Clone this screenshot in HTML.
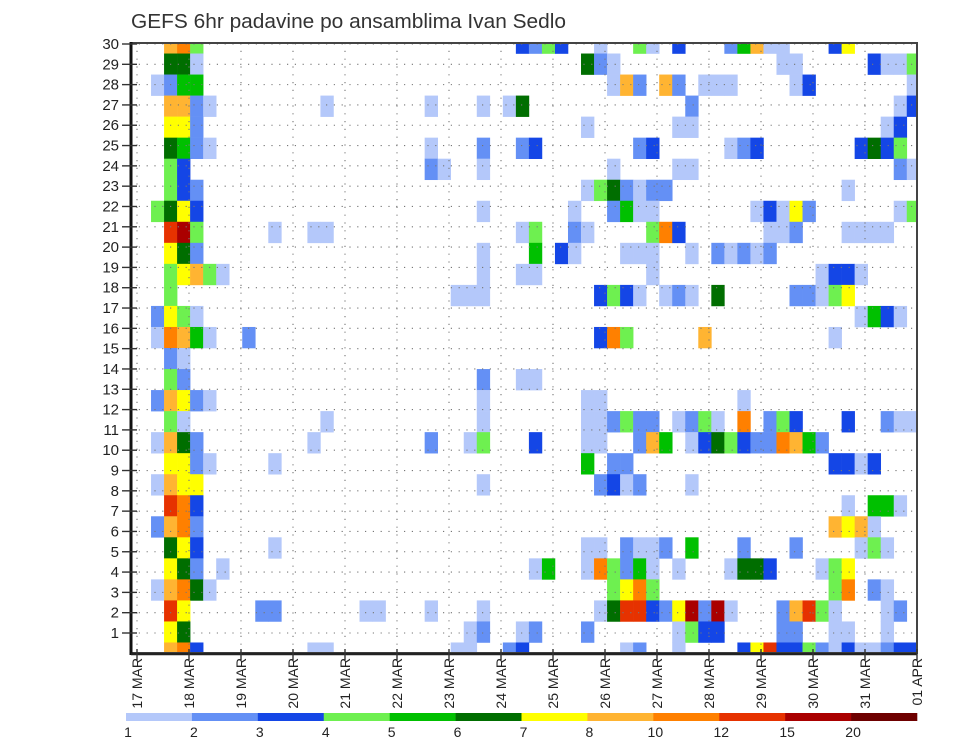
<!DOCTYPE html>
<html>
<head>
<meta charset="utf-8">
<style>
  html,body{margin:0;padding:0;background:#fff;}
  svg{display:block;font-family:"Liberation Sans",sans-serif;}
</style>
</head>
<body>
<svg id="chart" width="960" height="742" viewBox="0 0 960 742" xmlns="http://www.w3.org/2000/svg">
  <rect x="0" y="0" width="960" height="742" fill="#fff"/>
  <text x="131" y="28" font-size="20" fill="#333" textLength="435" lengthAdjust="spacingAndGlyphs">GEFS 6hr padavine po ansamblima Ivan Sedlo</text>
  <g id="cells"></g>
  <g id="grid"></g>
  <g id="axes"></g>
  <g id="legend"></g>
</svg>
<script>
// ---- data ----
const dayLabels = ["17 MAR","18 MAR","19 MAR","20 MAR","21 MAR","22 MAR","23 MAR","24 MAR","25 MAR","26 MAR","27 MAR","28 MAR","29 MAR","30 MAR","31 MAR","01 APR"];
const memberTicks = [1,2,3,4,5,6,7,8,9,10,11,12,13,14,15,16,17,18,19,20,21,22,23,24,25,26,27,28,29,30];
const legendLabels = ["1","2","3","4","5","6","7","8","10","12","15","20"];
const levelColors = ["#b4c8fa","#6490f5","#1446e6","#6ef050","#00c000","#006e00","#ffff00","#ffb432","#ff8000","#e63200","#aa0000","#6e0000"];
const levelCodes = "123456789abc";
// each row (top to bottom): "timestep:level" pairs
const rowCells = [
"2:8 3:9 4:4 29:3 30:2 31:4 32:3 35:1 38:4 39:1 41:3 45:2 46:5 47:8 48:1 49:1 53:3 54:7",
"2:6 3:6 4:1 34:6 35:2 36:1 49:1 50:1 56:3 57:1 58:1 59:4",
"1:1 2:2 3:5 4:5 36:1 37:8 38:2 40:8 41:2 43:1 44:1 45:1 50:1 51:3 59:1",
"2:8 3:8 4:2 5:1 14:1 22:1 26:1 28:1 29:6 42:2 58:1 59:3",
"2:7 3:7 4:2 34:1 41:1 42:1 57:1 58:3",
"2:6 3:5 4:2 5:1 22:1 26:2 29:2 30:3 38:2 39:3 45:1 46:2 47:3 55:3 56:6 57:3 58:4",
"2:4 3:3 22:2 23:1 26:1 36:1 41:1 42:1 58:2 59:1",
"2:4 3:3 4:2 34:1 35:4 36:6 37:2 38:1 39:2 40:2 54:1",
"1:4 2:6 3:7 4:3 26:1 33:1 36:2 37:5 38:1 39:1 47:1 48:3 49:1 50:7 51:2 58:1 59:4",
"2:a 3:b 4:4 10:1 13:1 14:1 29:1 30:4 33:2 34:1 39:4 40:9 41:3 48:1 49:1 50:2 54:1 55:1 56:1 57:1",
"2:7 3:6 4:2 26:1 30:5 32:3 33:1 37:1 38:1 39:1 42:1 44:2 45:1 46:2 47:1 48:2",
"2:4 3:7 4:8 5:4 6:1 26:1 29:1 30:1 39:1 52:1 53:3 54:3 55:1",
"2:4 24:1 25:1 26:1 35:3 36:4 37:3 38:1 40:1 41:2 42:1 44:6 50:2 51:2 52:1 53:4 54:7",
"1:2 2:7 3:4 4:1 55:1 56:5 57:3 58:1",
"1:1 2:9 3:8 4:5 5:1 8:2 35:3 36:9 37:4 43:8 53:1",
"2:2 3:1",
"2:4 3:2 26:2 29:1 30:1",
"1:2 2:8 3:7 4:2 5:1 26:1 34:1 35:1 46:1",
"2:4 3:1 14:1 26:1 34:1 35:1 36:2 37:4 38:2 39:2 41:1 42:2 43:4 44:1 46:9 48:2 49:4 50:3 54:3 57:2 58:1 59:1",
"1:1 2:8 3:6 4:2 13:1 22:2 25:1 26:4 30:3 34:1 35:1 38:2 39:8 40:5 42:1 43:3 44:6 45:4 46:3 47:2 48:2 49:9 50:8 51:5 52:2",
"2:7 3:7 4:2 5:1 10:1 34:5 36:2 37:2 53:3 54:3 55:1 56:3",
"1:1 2:8 3:7 4:7 26:1 35:2 36:3 37:1 38:2 42:1",
"2:a 3:9 4:3 54:1 56:5 57:5 58:1",
"1:2 2:8 3:9 4:2 53:8 54:7 55:8 56:1",
"2:6 3:7 4:3 10:1 34:1 35:1 37:2 38:1 39:1 40:2 42:5 46:2 50:2 55:1 56:4 57:1",
"2:7 3:6 4:2 6:1 30:1 31:5 34:1 35:9 36:4 37:2 38:5 39:1 41:1 45:1 46:6 47:6 48:3 52:1 53:4 54:7",
"1:1 2:8 3:9 4:6 5:1 36:4 37:7 38:9 39:4 53:4 54:9 56:2 57:1",
"2:a 3:7 9:2 10:2 17:1 18:1 22:1 26:1 35:1 36:6 37:a 38:a 39:3 40:2 41:7 42:b 43:2 44:b 45:1 49:2 50:8 51:a 52:4 53:1 57:1 58:2",
"2:7 3:6 25:1 26:2 29:1 30:2 34:2 41:1 42:4 43:3 44:3 49:2 50:2 53:1 54:1 57:1",
"2:8 3:9 4:3 13:1 14:1 24:1 25:1 28:2 29:3 37:1 38:2 41:1 46:3 47:7 48:a 49:3 50:3 51:4 52:2 53:1 54:3 55:1 56:1 57:2 58:3 59:3"
];

// ---- scales ----
const NS = "http://www.w3.org/2000/svg";
const PL = 131, PR = 917, PT = 43, PB = 653;
const X0 = 137, STEP = 13;
const CX0 = 138, CSTEP = 13.03;
function xStep(k){ return CX0 + CSTEP * k; }
function xDay(d){ return X0 + STEP * 4 * d; }
const ROWH = (PB - PT) / 29;
function yRowCenter(i){ return PT + ROWH * i; }
function yMember(m){ return 44 + (633 - 44) / 29 * (30 - m); }
function mk(tag, attrs, parent){
  const el = document.createElementNS(NS, tag);
  for (const a in attrs) el.setAttribute(a, attrs[a]);
  parent.appendChild(el);
  return el;
}

// ---- cells ----
const gCells = document.getElementById("cells");
rowCells.forEach(function(row, i){
  row.split(" ").forEach(function(p){
    if (!p) return;
    const parts = p.split(":");
    const k = +parts[0];
    const lvl = levelCodes.indexOf(parts[1]);
    let y0 = yRowCenter(i) - ROWH / 2, y1 = yRowCenter(i) + ROWH / 2;
    y0 = Math.max(y0, PT); y1 = Math.min(y1, PB);
    const x0 = xStep(k), x1 = Math.min(xStep(k + 1), PR);
    const r = mk("rect", {x: x0, y: y0, width: x1 - x0 + 0.3, height: y1 - y0 + 0.3, fill: levelColors[lvl]}, gCells);
    
    
  });
});

// ---- grid ----
const gGrid = document.getElementById("grid");
memberTicks.forEach(function(m){
  const l = mk("line", {x1: PL, x2: PR, y1: yMember(m), y2: yMember(m), stroke: "#777", "stroke-width": 1.1, "stroke-dasharray": "1.2,6.6"}, gGrid);
  
  
});
dayLabels.forEach(function(lbl, d){
  if (d === dayLabels.length - 1) return;
  const l = mk("line", {x1: xDay(d), x2: xDay(d), y1: PT, y2: PB, stroke: "#777", "stroke-width": 1.1, "stroke-dasharray": "1.2,6.6"}, gGrid);
  
  
});

// ---- axes ----
const gAx = document.getElementById("axes");
const frame = mk("rect", {x: PL, y: PT, width: PR - PL, height: PB - PT, fill: "none", stroke: "#444", "stroke-width": 2}, gAx);


const yAxis = mk("line", {x1: PL, x2: PL, y1: PT - 1, y2: PB + 2, stroke: "#111", "stroke-width": 3}, gAx);


const xAxis = mk("line", {x1: PL, x2: PR, y1: PB + 1, y2: PB + 1, stroke: "#222", "stroke-width": 2.5}, gAx);


memberTicks.forEach(function(m){
  const y = yMember(m);
  const t = mk("line", {x1: PL - 9, x2: PL + 6, y1: y, y2: y, stroke: "#333", "stroke-width": 1.4}, gAx);
  
  
  const tx = mk("text", {x: 119, y: y + 5, "font-size": 15, "text-anchor": "end", fill: "#222"}, gAx);
  tx.textContent = String(m);
  
  
});
dayLabels.forEach(function(lbl, d){
  const x = xDay(d);
  const t = mk("line", {x1: x, x2: x, y1: PB - 4, y2: PB + 7, stroke: "#333", "stroke-width": 1.4}, gAx);
  
  
  const tx = mk("text", {x: 0, y: 0, "font-size": 14, "text-anchor": "end", fill: "#222",
    transform: "translate(" + (x + 5) + "," + (PB + 5) + ") rotate(-90)"}, gAx);
  tx.textContent = lbl;
  
  
});

// ---- legend ----
const gLeg = document.getElementById("legend");
const LX0 = 126, LX1 = 917, LW = (LX1 - LX0) / levelColors.length;
levelColors.forEach(function(c, j){
  const r = mk("rect", {x: LX0 + LW * j, y: 713, width: LW + 0.3, height: 8, fill: c}, gLeg);
  
  
});
legendLabels.forEach(function(lbl, j){
  const t = mk("text", {x: LX0 + LW * j + 2, y: 737, "font-size": 14, "text-anchor": "middle", fill: "#222"}, gLeg);
  t.textContent = lbl;
  
  
});
</script>
</body>
</html>
